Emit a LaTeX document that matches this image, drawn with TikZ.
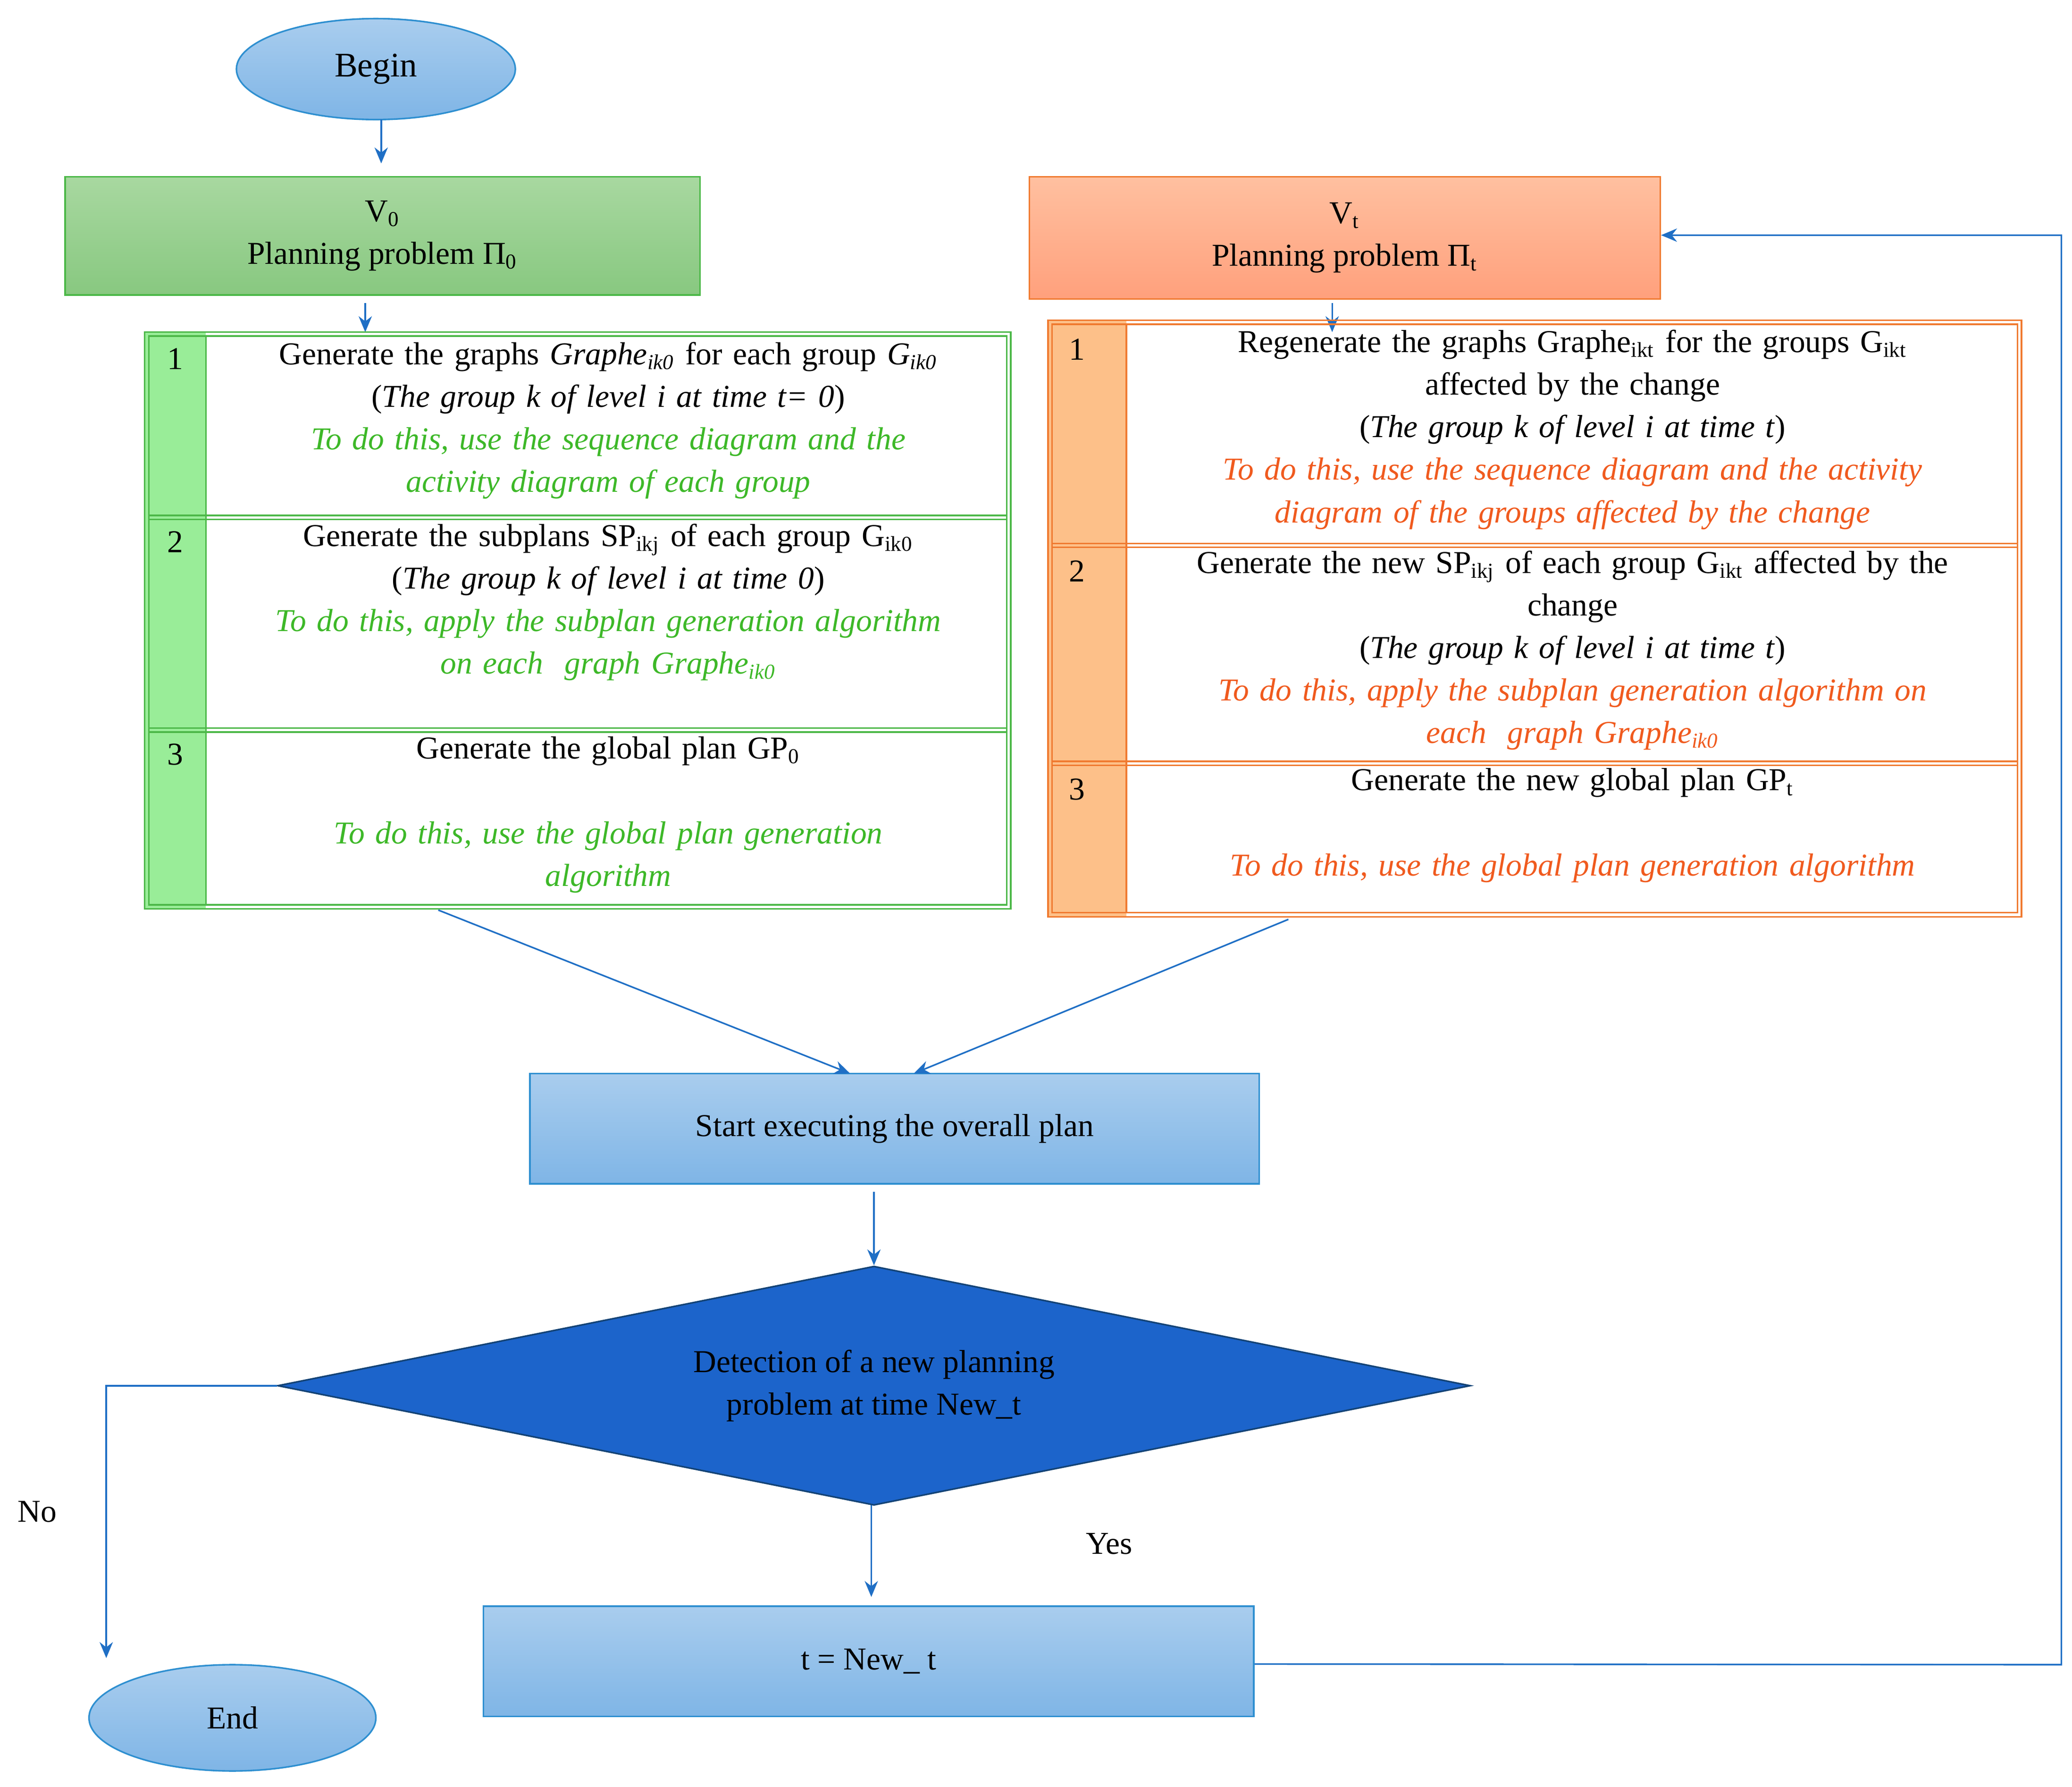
\documentclass[tikz,border=0pt]{standalone}
\usepackage{fontspec}
\setmainfont{Liberation Serif}
\usetikzlibrary{shapes.geometric,arrows.meta}
\definecolor{lnb}{HTML}{1F6FC5}
\definecolor{gtx}{HTML}{3DB828}
\definecolor{otx}{HTML}{F05A1E}
\definecolor{gbd}{HTML}{4CB848}
\definecolor{obd}{HTML}{F07A30}
\definecolor{bbd}{HTML}{2E8FD0}
\definecolor{btop}{HTML}{A9CDEE}
\definecolor{bbot}{HTML}{7FB5E6}
\definecolor{gtop}{HTML}{A8D8A0}
\definecolor{gbot}{HTML}{88C880}
\definecolor{otop}{HTML}{FFC0A0}
\definecolor{obot}{HTML}{FFA07C}
\tikzset{
 x=0.5pt,y=-0.5pt,
 every node/.style={font=\fontsize{12}{16}\selectfont},
 arr/.style={draw=lnb,-{Stealth[length=6pt,width=5pt]},line width=0.6pt},
 cell/.style={anchor=north,align=center,inner sep=0pt},
 bbox/.style={top color=btop,bottom color=bbot,draw=bbd,line width=0.6pt},
}
\begin{document}
\begin{tikzpicture}
\useasboundingbox (0,0) rectangle (1560,1345);
% Begin
\node[ellipse,minimum width=105pt,minimum height=38pt,inner sep=0pt,bbox] (begin) at (283,52) {\fontsize{13}{16}\selectfont Begin};
\coordinate (a1) at (287,123);
\draw[arr] (287,90) -- (a1);
% V0
\node[minimum width=239pt,minimum height=44.5pt,top color=gtop,bottom color=gbot,draw=gbd,line width=0.6pt,align=center] (v0) at (288,177.5) {V\textsubscript{0}\\Planning problem Π\textsubscript{0}};
% Vt
\node[minimum width=237.5pt,minimum height=46pt,top color=otop,bottom color=obot,draw=obd,line width=0.6pt,align=center] (vt) at (1012.5,179) {V\textsubscript{t}\\Planning problem Π\textsubscript{t}};
\coordinate (lt) at (275,250);
\coordinate (rt) at (1003,250);
\draw[arr] (275,228) -- (lt);
\draw[arr] (1003,228) -- (rt);
% left table
\fill[green!30!white!75!gbd] (109,250) rectangle (155,684);
\draw[gbd,line width=0.6pt] (109,250) rectangle (761,684);
\draw[gbd,line width=0.6pt] (112,253) rectangle (758,681);
\draw[gbd,line width=0.6pt] (155,253) -- (155,681) (112,388) -- (758,388) (112,391)--(758,391) (112,548)--(758,548) (112,551)--(758,551);
\node at (132,270) {1};
\node at (132,408) {2};
\node at (132,568) {3};
\node[cell,text width=300pt] (l1) at (458,257) {Generate the graphs \textit{Graphe\textsubscript{ik0}} for each group \textit{G\textsubscript{ik0}}\\(\textit{The group k of level i at time t= 0})\\{\color{gtx}\itshape To do this, use the sequence diagram and the\\activity diagram of each group}};
\node[cell,text width=300pt] (l2) at (458,394) {Generate the subplans SP\textsubscript{ikj} of each group G\textsubscript{ik0}\\(\textit{The group k of level i at time 0})\\{\color{gtx}\itshape To do this, apply the subplan generation algorithm\\on each\ \ graph Graphe\textsubscript{ik0}}};
\node[cell,text width=300pt] (l3) at (458,554) {Generate the global plan GP\textsubscript{0}\\[16pt]{\color{gtx}\itshape To do this, use the global plan generation\\algorithm}};
% right table
\fill[orange!40!white!85!obd] (789,241) rectangle (848,690);
\draw[obd,line width=0.6pt] (789,241) rectangle (1522,690);
\draw[obd,line width=0.6pt] (792,244) rectangle (1519,687);
\draw[obd,line width=0.6pt] (848,244) -- (848,687) (792,409) -- (1519,409) (792,412)--(1519,412) (792,573)--(1519,573) (792,576)--(1519,576);
\node at (811,263) {1};
\node at (811,430) {2};
\node at (811,594) {3};
\node[cell,text width=330pt] (r1) at (1184,248) {Regenerate the graphs Graphe\textsubscript{ikt} for the groups G\textsubscript{ikt}\\affected by the change\\(\textit{The group k of level i at time t})\\{\color{otx}\itshape To do this, use the sequence diagram and the activity\\diagram of the groups affected by the change}};
\node[cell,text width=330pt] (r2) at (1184,414) {Generate the new SP\textsubscript{ikj} of each group G\textsubscript{ikt} affected by the\\change\\(\textit{The group k of level i at time t})\\{\color{otx}\itshape To do this, apply the subplan generation algorithm on\\each\ \ graph Graphe\textsubscript{ik0}}};
\node[cell,text width=330pt] (r3) at (1184,578) {Generate the new global plan GP\textsubscript{t}\\[16pt]{\color{otx}\itshape To do this, use the global plan generation algorithm}};
% start
\node[minimum width=274.5pt,minimum height=41.5pt,bbox] (start) at (673.5,849.5) {Start executing the overall plan};
\coordinate (s1) at (640,808);
\coordinate (s2) at (688,808);
\draw[arr] (330,685) -- (s1);
\draw[arr] (970,692) -- (s2);
% diamond
\node[diamond,aspect=5,minimum width=449pt,minimum height=90pt,inner sep=0pt,fill=lnb!90!blue,draw=lnb!60!black,line width=0.6pt,align=center] (dec) at (658,1043) {Detection of a new planning\\problem at time New\_t};
\draw[arr] (658,897) -- (dec.north);
% t box
\node[minimum width=290pt,minimum height=41.5pt,bbox] (tb) at (654,1250.5) {t = New\_ t};
\coordinate (y1) at (656,1202);
\draw[arr] (656,1133) -- (y1);
\node at (835,1162) {Yes};
% end
\node[ellipse,minimum width=108pt,minimum height=40pt,inner sep=0pt,bbox] (end) at (175,1293) {End};
\coordinate (e1) at (80,1248);
\draw[arr] (dec.west) -| (e1);
\node at (28,1138) {No};
% loop
\draw[arr] (tb.east) ++(0,2) -- (1552,1253) -- (1552,177) -- (vt.east |- 0,177);
\end{tikzpicture}
\end{document}
